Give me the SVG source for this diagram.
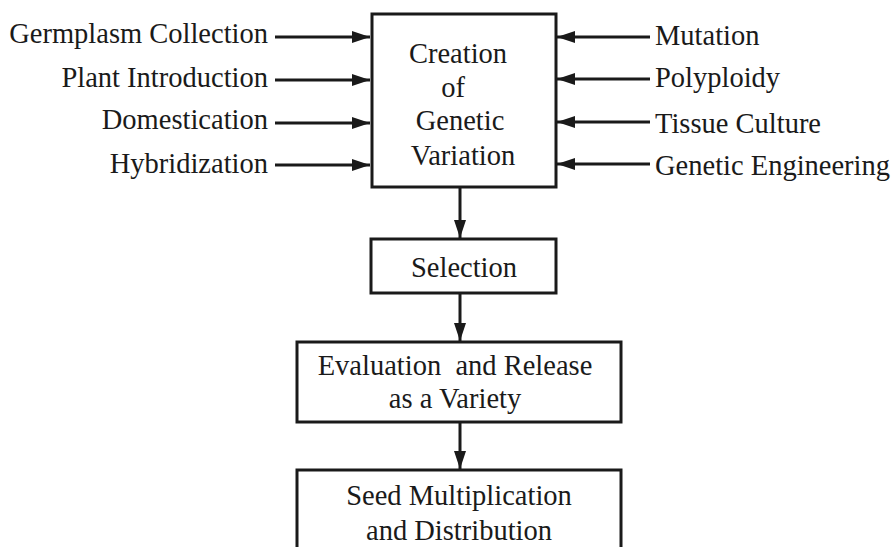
<svg xmlns="http://www.w3.org/2000/svg" width="894" height="547" viewBox="0 0 894 547">
<style>
text{font-family:"Liberation Serif","Times New Roman",serif;font-size:28.5px;fill:#1a1a1a}
.l{text-anchor:end}
.c{text-anchor:middle}
.box{fill:#fff;stroke:#1a1a1a;stroke-width:3}
.con{stroke:#1a1a1a;stroke-width:3;fill:none}
</style>
<defs>
<marker id="ah" markerWidth="6" markerHeight="4" refX="6" refY="2" orient="auto" markerUnits="strokeWidth">
<path d="M0,0 L6,2 L0,4 z" fill="#1a1a1a"/>
</marker>
</defs>
<rect width="894" height="547" fill="#fff"/>
<g id="connectors">
<line class="con" x1="275" y1="37" x2="370" y2="37" marker-end="url(#ah)"/>
<line class="con" x1="275" y1="80" x2="370" y2="80" marker-end="url(#ah)"/>
<line class="con" x1="275" y1="123" x2="370" y2="123" marker-end="url(#ah)"/>
<line class="con" x1="275" y1="165" x2="370" y2="165" marker-end="url(#ah)"/>
<line class="con" x1="650" y1="37" x2="557" y2="37" marker-end="url(#ah)"/>
<line class="con" x1="650" y1="79" x2="557" y2="79" marker-end="url(#ah)"/>
<line class="con" x1="650" y1="122" x2="557" y2="122" marker-end="url(#ah)"/>
<line class="con" x1="650" y1="164" x2="557" y2="164" marker-end="url(#ah)"/>
<line class="con" x1="460" y1="188" x2="460" y2="238" marker-end="url(#ah)"/>
<line class="con" x1="460" y1="293" x2="460" y2="341" marker-end="url(#ah)"/>
<line class="con" x1="460" y1="422" x2="460" y2="469" marker-end="url(#ah)"/>
</g>
<g id="creation">
<rect class="box" x="372" y="14" width="184" height="173"/>
<text class="c" x="458" y="63">Creation</text>
<text class="c" x="453" y="97">of</text>
<text class="c" x="460" y="130">Genetic</text>
<text class="c" x="463" y="165">Variation</text>
</g>
<g id="germplasm"><text class="l" x="268" y="43">Germplasm Collection</text></g>
<g id="plant-intro"><text class="l" x="268" y="87">Plant Introduction</text></g>
<g id="domestication"><text class="l" x="268" y="129">Domestication</text></g>
<g id="hybridization"><text class="l" x="268" y="173">Hybridization</text></g>
<g id="mutation"><text x="655" y="45">Mutation</text></g>
<g id="polyploidy"><text x="655" y="87">Polyploidy</text></g>
<g id="tissue-culture"><text x="655" y="133">Tissue Culture</text></g>
<g id="genetic-eng"><text x="655" y="175">Genetic Engineering</text></g>
<g id="selection">
<rect class="box" x="371" y="239" width="185" height="54"/>
<text class="c" x="464" y="277">Selection</text>
</g>
<g id="evaluation">
<rect class="box" x="297" y="342" width="324" height="80"/>
<text class="c" x="455" y="375" style="white-space:pre">Evaluation  and Release</text>
<text class="c" x="455" y="408">as a Variety</text>
</g>
<g id="seed">
<rect class="box" x="297" y="470" width="324" height="90"/>
<text class="c" x="459" y="505">Seed Multiplication</text>
<text class="c" x="459" y="540">and Distribution</text>
</g>
</svg>
